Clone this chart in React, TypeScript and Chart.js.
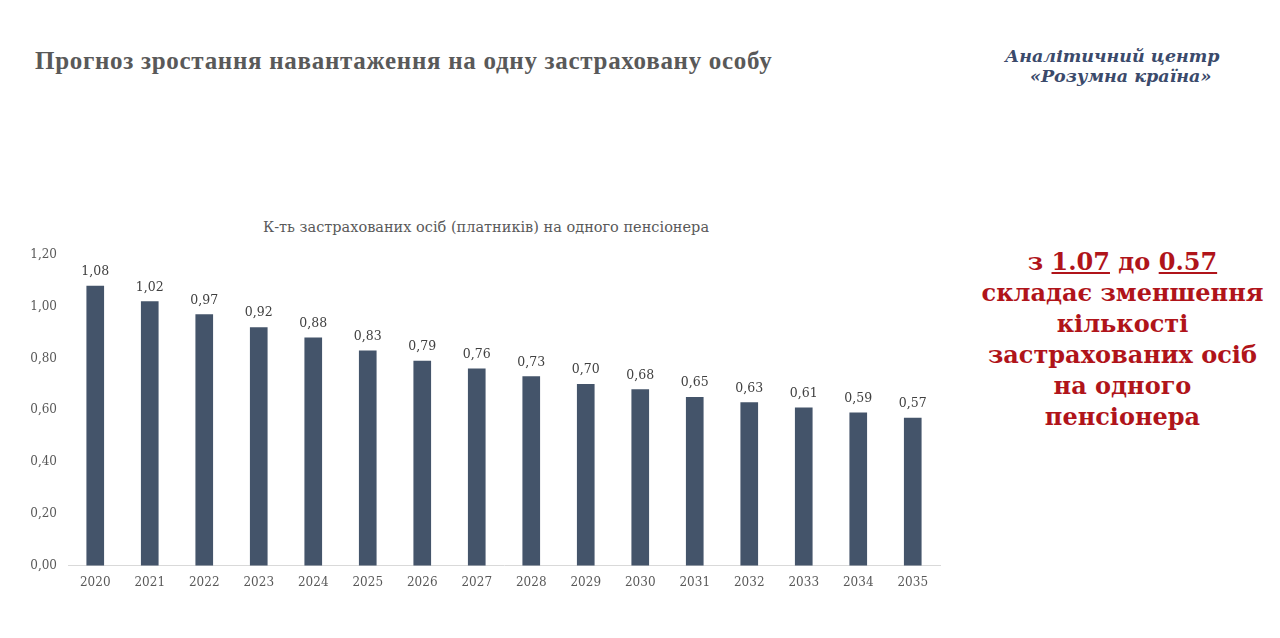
import React, { useEffect, useRef } from "react";
import { Chart, registerables } from "chart.js";

Chart.register(...registerables);

const years = ["2020","2021","2022","2023","2024","2025","2026","2027","2028","2029","2030","2031","2032","2033","2034","2035"];
const ratios = [1.08, 1.02, 0.97, 0.92, 0.88, 0.83, 0.79, 0.76, 0.73, 0.70, 0.68, 0.65, 0.63, 0.61, 0.59, 0.57];
const yTicksMax = 1.2;
const yStep = 0.2;
const chartTitle = "К-ть застрахованих осіб (платників) на одного пенсіонера";
const pageTitle = "Прогноз зростання навантаження на одну застраховану особу";
const logoLines = ["Аналітичний центр", "«Розумна країна»"];

const SERIF = "Georgia, 'DejaVu Serif', 'Liberation Serif', serif";
const fmt = (v: number) => v.toFixed(2).replace(".", ",");

const valueLabels = {
  id: "valueLabels",
  afterDatasetsDraw(chart: any) {
    const { ctx } = chart;
    const meta = chart.getDatasetMeta(0);
    ctx.save();
    ctx.font = "12.5px " + SERIF;
    ctx.fillStyle = "#404040";
    ctx.textAlign = "center";
    ctx.textBaseline = "bottom";
    meta.data.forEach((bar: any, i: number) => {
      ctx.fillText(fmt(ratios[i]), bar.x, bar.y - 8);
    });
    ctx.restore();
  },
};

export default function App() {
  const ref = useRef<HTMLCanvasElement>(null);
  useEffect(() => {
    if (!ref.current) return;
    const chart = new Chart(ref.current, {
      type: "bar",
      data: {
        labels: years,
        datasets: [
          {
            data: ratios,
            backgroundColor: "#44546A",
            barThickness: 17,
          },
        ],
      },
      options: {
        animation: false,
        responsive: false,
        maintainAspectRatio: false,
        layout: { padding: { top: 65, right: 30, bottom: 0, left: 0 } },
        plugins: {
          legend: { display: false },
          tooltip: { enabled: false },
          title: { display: false },
        },
        scales: {
          x: {
            grid: { display: false, drawTicks: false },
            border: { display: true, color: "#D9D9D9", width: 1 },
            ticks: {
              color: "#595959",
              font: { family: SERIF, size: 12 },
              padding: 10,
              maxRotation: 0,
            },
          },
          y: {
            min: 0,
            max: yTicksMax,
            grid: { display: false, drawTicks: false },
            border: { display: false },
            afterFit: (s: any) => { s.width = 48; },
            ticks: {
              stepSize: yStep,
              color: "#595959",
              font: { family: SERIF, size: 12 },
              padding: 11,
              callback: (v: any) => fmt(Number(v)),
            },
          },
        },
      },
      plugins: [valueLabels],
    });
    return () => chart.destroy();
  }, []);

  return (
    <div style={{ position: "absolute", left: 0, top: 0, width: 1280, height: 638, background: "#fff", overflow: "hidden" }}>
      <div
        style={{
          position: "absolute",
          left: 35,
          top: 47,
          fontFamily: "'Liberation Serif', 'DejaVu Serif', serif",
          fontWeight: "bold",
          fontSize: 25,
          letterSpacing: 0.7,
          color: "#595959",
          whiteSpace: "nowrap",
        }}
      >
        {pageTitle}
      </div>
      <div
        style={{
          position: "absolute",
          left: 1005,
          top: 46,
          fontFamily: "'DejaVu Serif', serif",
          fontStyle: "italic",
          fontWeight: "bold",
          fontSize: 17.5,
          lineHeight: "20px",
          color: "#3B4A6B",
          whiteSpace: "nowrap",
        }}
      >
        <div>{logoLines[0]}</div>
        <div style={{ paddingLeft: 25 }}>{logoLines[1]}</div>
      </div>
      <div
        style={{
          position: "absolute",
          left: 246,
          top: 217,
          width: 480,
          textAlign: "center",
          fontFamily: SERIF,
          fontSize: 14.5,
          lineHeight: "20px",
          color: "#595959",
          whiteSpace: "nowrap",
        }}
      >
        {chartTitle}
      </div>
      <div
        style={{
          position: "absolute",
          left: 960,
          top: 246,
          width: 325,
          textAlign: "center",
          fontFamily: "'DejaVu Serif', serif",
          fontWeight: "bold",
          fontSize: 24,
          lineHeight: "31px",
          color: "#B0141A",
        }}
      >
        <div>з <u>1.07</u> до <u>0.57</u></div>
        <div>складає зменшення</div>
        <div>кількості</div>
        <div>застрахованих осіб</div>
        <div>на одного</div>
        <div>пенсіонера</div>
      </div>
      <canvas ref={ref} width={950} height={410} style={{ position: "absolute", left: 20, top: 190, width: 950, height: 410 }} />
    </div>
  );
}
